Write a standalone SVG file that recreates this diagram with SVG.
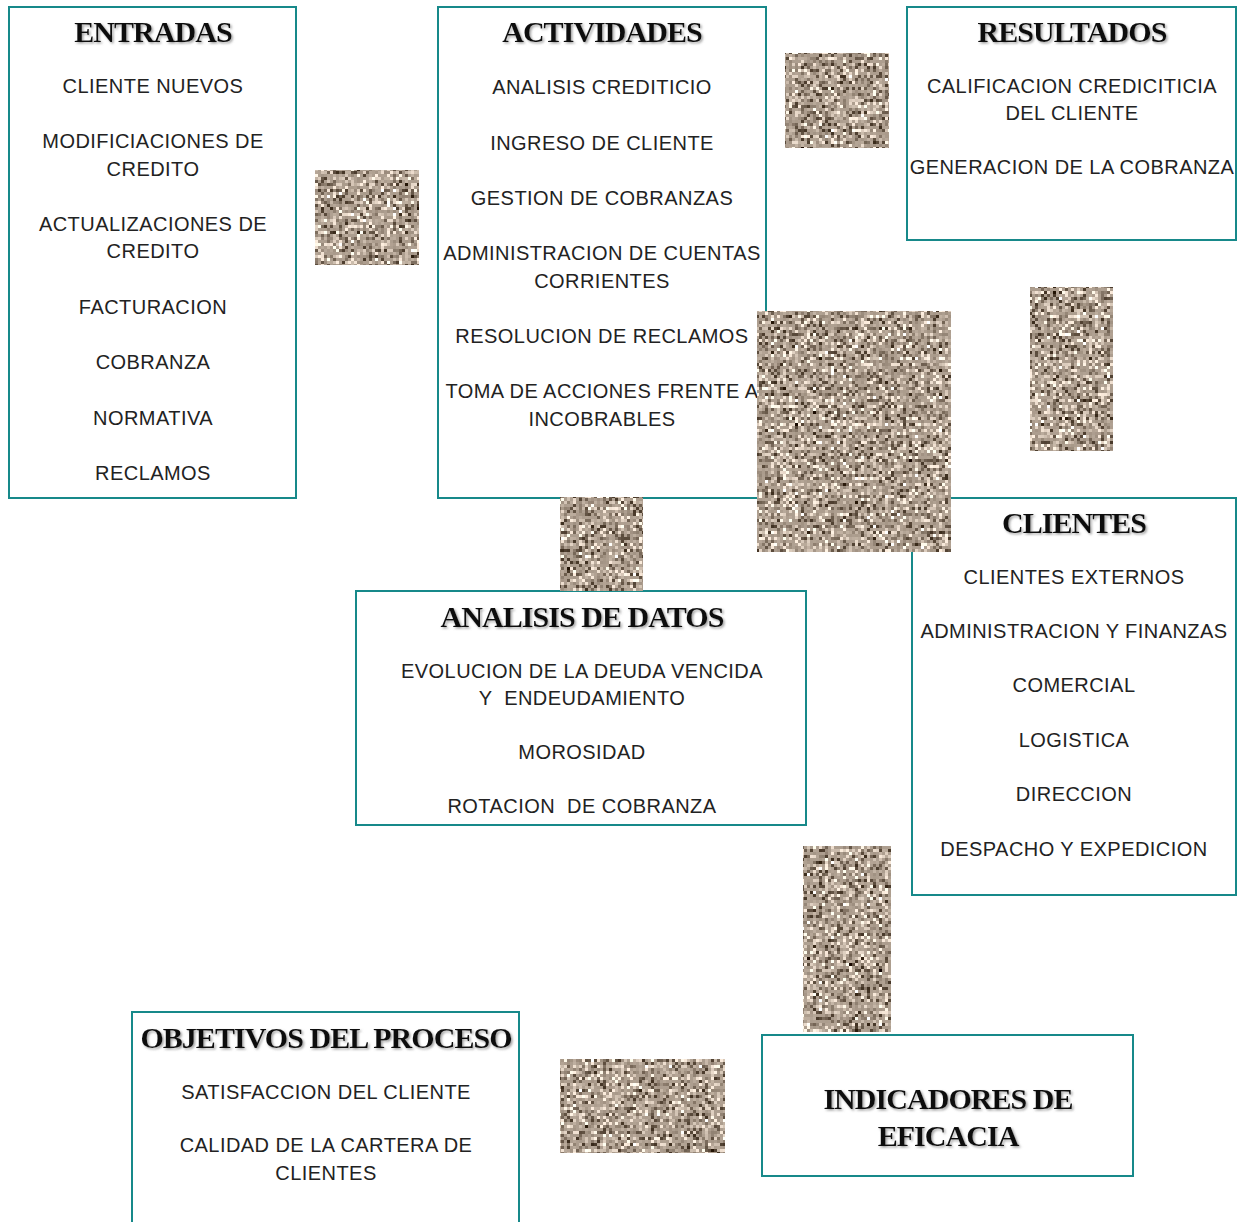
<svg xmlns="http://www.w3.org/2000/svg" width="1242" height="1222" viewBox="0 0 1242 1222">
  <style>
    .box { fill: none; stroke: #17898a; stroke-width: 2; }
    .ttl { font-family: "Liberation Serif", "Times New Roman", serif; font-weight: bold; font-size: 30px; letter-spacing: -0.95px; fill: #111; text-anchor: middle; filter: url(#shadow); }
    .itm { font-family: "Liberation Sans", Arial, sans-serif; font-size: 20px; letter-spacing: 0.45px; fill: #222; text-anchor: middle; }
    .tex { fill: #a89a8c; }
  </style>
  <defs>
    <filter id="shadow" x="-5%" y="-20%" width="115%" height="160%">
      <feDropShadow dx="1.5" dy="1.5" stdDeviation="0.8" flood-color="#888" flood-opacity="0.8"/>
    </filter>
    <!-- stone-like speckled fill for the arrow blocks, sampled in 3px cells -->
    <filter id="granite" filterUnits="userSpaceOnUse" x="0" y="0" width="1242" height="1222" color-interpolation-filters="sRGB">
      <feTurbulence type="fractalNoise" baseFrequency="0.5" numOctaves="2" seed="7" result="n"/>
      <feColorMatrix in="n" type="matrix" values="1.8 0 0 0 -0.22  1.8 0 0 0 -0.28  1.8 0 0 0 -0.34  0 0 0 0 1" result="c"/>
      <feFlood x="1" y="1" width="1" height="1" flood-color="#000"/>
      <feComposite x="0" y="0" width="3" height="3"/>
      <feTile x="0" y="0" width="1242" height="1222" result="grid"/>
      <feComposite in="c" in2="grid" operator="in"/>
      <feMorphology operator="dilate" radius="1" result="cells"/>
      <feComposite in="cells" in2="SourceGraphic" operator="in"/>
    </filter>
  </defs>

  <rect width="1242" height="1222" fill="#fff"/>

  <g id="entradas">
    <rect class="box" x="9" y="7" width="287" height="491"/>
    <text class="ttl" x="153" y="42">ENTRADAS</text>
    <text class="itm" x="153" y="93">CLIENTE NUEVOS</text>
    <text class="itm" x="153" y="148">MODIFICIACIONES DE</text>
    <text class="itm" x="153" y="176">CREDITO</text>
    <text class="itm" x="153" y="231">ACTUALIZACIONES DE</text>
    <text class="itm" x="153" y="258">CREDITO</text>
    <text class="itm" x="153" y="314">FACTURACION</text>
    <text class="itm" x="153" y="369">COBRANZA</text>
    <text class="itm" x="153" y="425">NORMATIVA</text>
    <text class="itm" x="153" y="480">RECLAMOS</text>
  </g>

  <g id="actividades">
    <rect class="box" x="438" y="7" width="328" height="491"/>
    <text class="ttl" x="602" y="42">ACTIVIDADES</text>
    <text class="itm" x="602" y="94">ANALISIS CREDITICIO</text>
    <text class="itm" x="602" y="150">INGRESO DE CLIENTE</text>
    <text class="itm" x="602" y="205">GESTION DE COBRANZAS</text>
    <text class="itm" x="602" y="260">ADMINISTRACION DE CUENTAS</text>
    <text class="itm" x="602" y="288">CORRIENTES</text>
    <text class="itm" x="602" y="343">RESOLUCION DE RECLAMOS</text>
    <text class="itm" x="602" y="398">TOMA DE ACCIONES FRENTE A</text>
    <text class="itm" x="602" y="426">INCOBRABLES</text>
  </g>

  <g id="resultados">
    <rect class="box" x="907" y="7" width="329" height="233"/>
    <text class="ttl" x="1072" y="42">RESULTADOS</text>
    <text class="itm" x="1072" y="93">CALIFICACION CREDICITICIA</text>
    <text class="itm" x="1072" y="120">DEL CLIENTE</text>
    <text class="itm" x="1072" y="174">GENERACION DE LA COBRANZA</text>
  </g>

  <g id="clientes">
    <rect class="box" x="912" y="498" width="324" height="397"/>
    <text class="ttl" x="1074" y="533">CLIENTES</text>
    <text class="itm" x="1074" y="584">CLIENTES EXTERNOS</text>
    <text class="itm" x="1074" y="638">ADMINISTRACION Y FINANZAS</text>
    <text class="itm" x="1074" y="692">COMERCIAL</text>
    <text class="itm" x="1074" y="747">LOGISTICA</text>
    <text class="itm" x="1074" y="801">DIRECCION</text>
    <text class="itm" x="1074" y="856">DESPACHO Y EXPEDICION</text>
  </g>

  <g id="analisis-datos">
    <rect class="box" x="356" y="591" width="450" height="234"/>
    <text class="ttl" x="582" y="627">ANALISIS DE DATOS</text>
    <text class="itm" x="582" y="678">EVOLUCION DE LA DEUDA VENCIDA</text>
    <text class="itm" x="582" y="705" xml:space="preserve">Y  ENDEUDAMIENTO</text>
    <text class="itm" x="582" y="759">MOROSIDAD</text>
    <text class="itm" x="582" y="813" xml:space="preserve">ROTACION  DE COBRANZA</text>
  </g>

  <g id="objetivos">
    <rect class="box" x="132" y="1012" width="387" height="220"/>
    <text class="ttl" x="326" y="1048">OBJETIVOS DEL PROCESO</text>
    <text class="itm" x="326" y="1099">SATISFACCION DEL CLIENTE</text>
    <text class="itm" x="326" y="1152">CALIDAD DE LA CARTERA DE</text>
    <text class="itm" x="326" y="1180">CLIENTES</text>
  </g>

  <g id="indicadores">
    <rect class="box" x="762" y="1035" width="371" height="141"/>
    <text class="ttl" x="948" y="1109">INDICADORES DE</text>
    <text class="ttl" x="948" y="1146">EFICACIA</text>
  </g>

  <!-- arrow blocks (connectors), drawn last so they sit over the box edges -->
  <g id="connectors" filter="url(#granite)">
    <rect class="tex" x="315" y="170" width="104" height="95"/>
    <rect class="tex" x="785" y="53" width="104" height="95"/>
    <rect class="tex" x="757" y="311" width="194" height="241"/>
    <rect class="tex" x="1030" y="287" width="83" height="164"/>
    <rect class="tex" x="560" y="497" width="83" height="94"/>
    <rect class="tex" x="803" y="846" width="88" height="186"/>
    <rect class="tex" x="560" y="1059" width="165" height="94"/>
  </g>
</svg>
